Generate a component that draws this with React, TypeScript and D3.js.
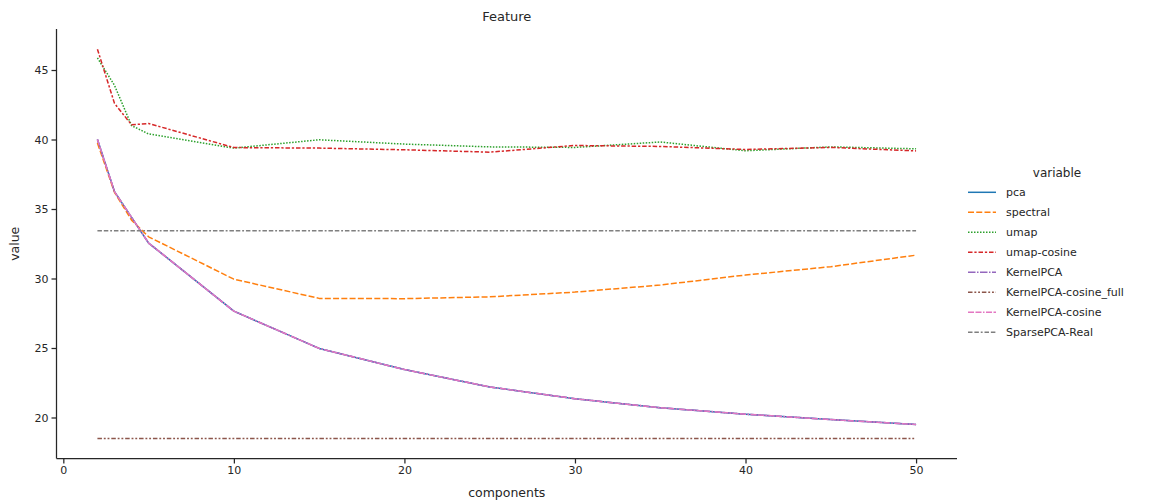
import * as d3 from "d3";
import React, { useEffect, useRef } from "react";

// components on the x axis
const components = [2, 3, 4, 5, 10, 15, 20, 25, 30, 35, 40, 45, 50];

const pca = [40.0, 36.25, 34.4, 32.55, 27.65, 24.97, 23.45, 22.2, 21.35, 20.7, 20.24, 19.85, 19.5];
const spectral = [39.75, 36.2, 34.2, 33.0, 29.95, 28.57, 28.55, 28.68, 29.02, 29.53, 30.25, 30.85, 31.68];
const umap = [45.87, 43.9, 41.0, 40.4, 39.38, 39.98, 39.67, 39.47, 39.43, 39.82, 39.19, 39.47, 39.33];
const umapCosine = [46.5, 42.6, 41.06, 41.15, 39.42, 39.38, 39.26, 39.09, 39.57, 39.5, 39.28, 39.43, 39.18];
const kernelPCA = [40.0, 36.25, 34.4, 32.55, 27.65, 24.97, 23.45, 22.2, 21.35, 20.7, 20.24, 19.85, 19.5];
const kernelPCACosineFull = [18.49, 18.49, 18.49, 18.49, 18.49, 18.49, 18.49, 18.49, 18.49, 18.49, 18.49, 18.49, 18.49];
const kernelPCACosine = [40.0, 36.25, 34.4, 32.55, 27.65, 24.97, 23.45, 22.2, 21.35, 20.7, 20.24, 19.85, 19.5];
const sparsePCAReal = [33.43, 33.43, 33.43, 33.43, 33.43, 33.43, 33.43, 33.43, 33.43, 33.43, 33.43, 33.43, 33.43];

const seriesNames = ["pca", "spectral", "umap", "umap-cosine", "KernelPCA", "KernelPCA-cosine_full", "KernelPCA-cosine", "SparsePCA-Real"];
const seriesValues = [pca, spectral, umap, umapCosine, kernelPCA, kernelPCACosineFull, kernelPCACosine, sparsePCAReal];

const xTicks = [0, 10, 20, 30, 40, 50];
const yTicks = [20, 25, 30, 35, 40, 45];

const App = () => {
  const ref = useRef(null);

  useEffect(() => {
    document.body.style.margin = "0";
    const svg = d3.select(ref.current);
    svg.selectAll("*").remove();

    const left = 56.5, right = 957, top = 29, bottom = 458.5;
    const font = "DejaVu Sans, sans-serif";
    const ink = "#262626";

    const x = d3.scaleLinear().domain([-0.4, 52.4]).range([left, right]);
    const y = d3.scaleLinear().domain([17.05, 47.95]).range([bottom, top]);

    const colors = d3.schemeCategory10;
    // seaborn default dash patterns, scaled by line width 1.5
    const dashes = [
      "",
      "6,2.25",
      "1.5,1.5",
      "4.5,1.875,2.25,1.875",
      "7.5,1.5,1.5,1.5",
      "4.5,1.875,1.875,1.875,1.875,1.875",
      "6,1.5,6,1.5,1.5,1.5",
      "4.5,1.875,4.5,1.875,1.875,1.875",
    ];

    // title
    svg.append("text")
      .attr("x", (left + right) / 2)
      .attr("y", 21)
      .attr("text-anchor", "middle")
      .style("font-family", font)
      .style("font-size", "13px")
      .attr("fill", ink)
      .text("Feature");

    // lines
    const line = d3.line()
      .x((d) => x(d[0]))
      .y((d) => y(d[1]));

    seriesValues.forEach((vals, i) => {
      const pts = components.map((c, j) => [c, vals[j]]);
      svg.append("path")
        .datum(pts)
        .attr("d", line)
        .attr("fill", "none")
        .attr("stroke", colors[i])
        .attr("stroke-width", 1.5)
        .attr("stroke-dasharray", dashes[i] || null)
        .attr("stroke-linejoin", "round");
    });

    // axes
    const xAxis = svg.append("g")
      .attr("transform", `translate(0,${bottom})`)
      .call(d3.axisBottom(x).tickValues(xTicks).tickSize(5).tickPadding(3));
    const yAxis = svg.append("g")
      .attr("transform", `translate(${left},0)`)
      .call(d3.axisLeft(y).tickValues(yTicks).tickSize(5).tickPadding(3));

    [xAxis, yAxis].forEach((g) => {
      g.select(".domain").attr("stroke", ink).attr("stroke-width", 1.25);
      g.selectAll(".tick line").attr("stroke", ink).attr("stroke-width", 1.25);
      g.selectAll(".tick text")
        .attr("fill", ink)
        .style("font-family", font)
        .style("font-size", "11px");
    });
    // keep spines straight: drop d3's outer ticks
    xAxis.select(".domain").attr("d", `M${left},0H${right}`);
    yAxis.select(".domain").attr("d", `M0,${bottom}V${top}`);

    svg.append("text")
      .attr("x", (left + right) / 2)
      .attr("y", 497)
      .attr("text-anchor", "middle")
      .style("font-family", font)
      .style("font-size", "12.5px")
      .attr("fill", ink)
      .text("components");

    svg.append("text")
      .attr("transform", `translate(19,${(top + bottom) / 2}) rotate(-90)`)
      .attr("text-anchor", "middle")
      .style("font-family", font)
      .style("font-size", "12.5px")
      .attr("fill", ink)
      .text("value");

    // legend
    const legend = svg.append("g").attr("transform", "translate(968,192.3)");
    legend.append("text")
      .attr("x", 89)
      .attr("y", -15.5)
      .attr("text-anchor", "middle")
      .style("font-family", font)
      .style("font-size", "12px")
      .attr("fill", ink)
      .text("variable");

    const items = legend.selectAll(".legend-item")
      .data(seriesNames)
      .enter()
      .append("g")
      .attr("class", "legend-item")
      .attr("transform", (d, i) => `translate(0,${i * 20})`);

    items.append("line")
      .attr("x1", 0)
      .attr("x2", 28)
      .attr("stroke", (d, i) => colors[i])
      .attr("stroke-width", 1.5)
      .attr("stroke-dasharray", (d, i) => dashes[i] || null);

    items.append("text")
      .attr("x", 38)
      .attr("y", 4)
      .style("font-family", font)
      .style("font-size", "11px")
      .attr("fill", ink)
      .text((d) => d);
  }, []);

  return <svg ref={ref} width={1154} height={504} style={{ display: "block" }} />;
};

export default App;
